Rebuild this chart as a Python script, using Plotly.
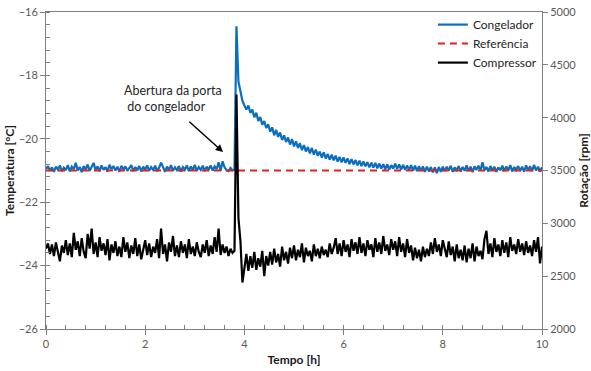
import numpy as np
import plotly.graph_objects as go

# sample times [h]
tempo = np.linspace(0, 10, 251)

# Congelador temperature [°C]
congelador = [
    -20.96, -20.86, -21.01, -20.90, -21.04, -20.88, -20.97, -20.84, -21.02, -20.91,
    -20.99, -20.83, -21.03, -20.88, -20.96, -20.76, -21.00, -20.89, -21.05, -20.86,
    -20.97, -20.81, -21.01, -20.88, -20.76, -20.99, -20.87, -21.02, -20.84, -20.98,
    -20.89, -21.03, -20.82, -20.96, -20.86, -21.00, -20.88, -21.04, -20.85, -20.97,
    -20.87, -21.01, -20.91, -20.83, -21.02, -20.89, -20.99, -20.86, -21.03, -20.88,
    -20.97, -20.84, -21.01, -20.89, -20.98, -20.85, -21.02, -20.91, -20.75, -20.87,
    -21.04, -20.88, -20.98, -20.83, -21.01, -20.90, -20.99, -20.86, -21.03, -20.89,
    -20.97, -20.84, -21.02, -20.87, -20.99, -20.82, -21.01, -20.89, -20.98, -20.85,
    -21.02, -20.88, -20.97, -20.84, -21.00, -20.87, -20.96, -20.74, -21.01, -20.71,
    -20.90, -20.99, -21.02, -20.92, -21.00, -20.97,
    -16.45, -18.20, -18.55, -18.80,
    -18.95, -19.08, -18.95, -19.18, -19.08, -19.32, -19.18, -19.44, -19.31, -19.56,
    -19.44, -19.66, -19.54, -19.78, -19.64, -19.89, -19.72, -19.94, -19.80, -20.04,
    -19.89, -20.10, -19.96, -20.18, -20.01, -20.24, -20.08, -20.29, -20.14, -20.36,
    -20.20, -20.40, -20.26, -20.46, -20.29, -20.50, -20.34, -20.54, -20.40, -20.59,
    -20.43, -20.62, -20.48, -20.66, -20.50, -20.68, -20.53, -20.72, -20.57, -20.74,
    -20.59, -20.76, -20.62, -20.80, -20.64, -20.81, -20.67, -20.84, -20.69, -20.86,
    -20.71, -20.87, -20.74, -20.90, -20.75, -20.91, -20.76, -20.93, -20.78, -20.94,
    -20.80, -20.96, -20.81, -20.97, -20.83,
    -20.94, -20.78, -20.95, -20.81, -20.97, -20.82, -20.98, -20.84, -20.99, -20.83,
    -21.00, -20.85, -21.02, -20.86, -21.01, -20.87, -21.04, -20.88, -21.03, -20.89,
    -21.06, -20.90, -21.08, -20.89, -21.04, -20.88,
    -21.02, -20.88, -21.00, -20.85, -21.04, -20.90, -20.99, -20.86, -21.03, -20.89,
    -21.01, -20.84, -21.02, -20.88, -21.05, -20.87, -20.98, -20.85, -21.00, -20.74,
    -20.99, -20.89, -21.03, -20.86, -21.00, -20.88, -21.04, -20.90, -20.99, -20.85,
    -21.02, -20.87, -21.00, -20.83, -21.03, -20.89, -20.98, -20.86, -21.01, -20.88,
    -21.04, -20.84, -20.99, -20.87, -21.02, -20.82, -21.00, -20.88, -21.03, -20.90,
]

# Referência temperature [°C]
ref_tempo = [0, 10]
referencia = [-21.0, -21.0]

# Compressor rotation [rpm]
compressor = [
    2760, 2810, 2710, 2800, 2690, 2820, 2730, 2640, 2790, 2720,
    2840, 2700, 2810, 2680, 2910, 2750, 2830, 2690, 2860, 2730,
    2670, 2900, 2760, 2950, 2710, 2820, 2680, 2870, 2740, 2810,
    2700, 2850, 2650, 2800, 2720, 2830, 2690, 2780, 2680, 2870,
    2730, 2820, 2670, 2790, 2710, 2860, 2690, 2800, 2660, 2770,
    2840, 2700, 2810, 2680, 2780, 2720, 2850, 2670, 2950, 2710,
    2800, 2640, 2820, 2730, 2880, 2690, 2790, 2680, 2830, 2720,
    2800, 2670, 2850, 2710, 2780, 2690, 2820, 2730, 2680, 2800,
    2720, 2840, 2690, 2790, 2710, 2870, 2730, 2950, 2700, 2800,
    2720, 2780, 2690, 2760, 2720, 2740,
    4220, 3050, 2830, 2440, 2560,
    2710, 2550, 2690, 2580, 2730, 2560, 2670, 2590, 2740, 2500, 2690, 2600,
    2730, 2610, 2760, 2630, 2710, 2590, 2780, 2650, 2730, 2620, 2770, 2670,
    2790, 2650, 2750, 2680, 2810, 2630, 2770, 2690, 2740, 2640, 2800, 2690,
    2760, 2670, 2780, 2700, 2750, 2680, 2810, 2710, 2770,
    2860, 2710, 2810, 2690, 2840, 2730, 2800, 2680, 2850, 2740,
    2820, 2710, 2870, 2720, 2810, 2690, 2840, 2750, 2800, 2680,
    2860, 2730, 2820, 2710, 2880, 2740, 2800, 2700, 2850, 2750,
    2830, 2690, 2870, 2730, 2810, 2680, 2850, 2720, 2790, 2650,
    2770, 2670, 2750, 2640, 2780, 2680, 2760, 2690, 2820, 2710,
    2860, 2730, 2800, 2690, 2840,
    2770, 2680, 2830, 2700, 2780, 2640, 2800, 2670, 2750, 2650,
    2790, 2630, 2760, 2670, 2810, 2640, 2780, 2690, 2740, 2660,
    2850, 2930, 2710, 2810, 2680, 2860, 2730, 2800, 2690, 2840,
    2720, 2820, 2680, 2870, 2740, 2800, 2710, 2850, 2730, 2810,
    2700, 2830, 2720, 2790, 2690, 2840, 2730, 2870, 2620, 2780,
]

x_ticks = [0, 2, 4, 6, 8, 10]
y_ticks = [-26, -24, -22, -20, -18, -16]
y2_ticks = [2000, 2500, 3000, 3500, 4000, 4500, 5000]

FONT = "Lato, 'Open Sans', sans-serif"
AX = "#808080"
TICKF = dict(family=FONT, size=11, color="#595959")
TITLEF = dict(family=FONT, size=12, color="#1a1a1a", weight="bold")
ANNF = dict(family=FONT, size=12.5, color="#262626")

fig = go.Figure()
fig.add_trace(go.Scatter(x=tempo, y=congelador, name="Congelador", mode="lines",
                         line=dict(color="#0A6EBD", width=2.2)))
fig.add_trace(go.Scatter(x=ref_tempo, y=referencia, name="Referência", mode="lines",
                         line=dict(color="#E3201C", width=2, dash="7px,5px")))
fig.add_trace(go.Scatter(x=tempo, y=compressor, name="Compressor", mode="lines",
                         yaxis="y2", line=dict(color="#000000", width=2.2)))

fig.add_annotation(x=1.53, y=-18.72, xref="x", yref="y", xanchor="left", yanchor="middle",
                   text="Abertura da porta<br> do congelador", align="left",
                   showarrow=False, font=ANNF)
fig.add_annotation(x=3.57, y=-20.42, ax=2.86, ay=-19.42, xref="x", yref="y",
                   axref="x", ayref="y", text="", showarrow=True, arrowhead=2,
                   arrowsize=1, arrowwidth=1.5, arrowcolor="#000000")

fig.update_layout(
    width=591, height=371,
    margin=dict(l=46, r=49, t=10, b=42),
    paper_bgcolor="white", plot_bgcolor="white",
    font=dict(family=FONT),
    showlegend=True,
    legend=dict(x=0.78, y=1.006, xanchor="left", yanchor="top",
                bgcolor="rgba(0,0,0,0)", font=dict(family=FONT, size=12, color="#262626"),
                itemwidth=30, tracegroupgap=0),
    xaxis=dict(range=[0, 10], tickvals=x_ticks, showgrid=False, zeroline=False,
               showline=True, linecolor=AX, linewidth=1, mirror=True, automargin=False,
               ticks="outside", ticklen=5, tickcolor=AX, tickfont=TICKF,
               minor=dict(dtick=0.4, ticks="inside", ticklen=4, tickcolor=AX),
               title=dict(text="Tempo [h]", font=TITLEF, standoff=6)),
    yaxis=dict(range=[-26, -16], tickvals=y_ticks, showgrid=False, zeroline=False,
               showline=True, linecolor=AX, linewidth=1, automargin=False,
               ticks="outside", ticklen=5, tickcolor=AX, tickfont=TICKF,
               minor=dict(dtick=0.4, ticks="inside", ticklen=4, tickcolor=AX),
               title=dict(text="Temperatura [°C]", font=TITLEF, standoff=1)),
    yaxis2=dict(range=[2000, 5000], tickvals=y2_ticks, overlaying="y", side="right",
                showgrid=False, zeroline=False, showline=True, linecolor=AX, linewidth=1,
                automargin=False,
                ticks="outside", ticklen=5, tickcolor=AX, tickfont=TICKF,
                title=dict(text="Rotação [rpm]", font=TITLEF, standoff=6)),
)

fig.write_html("out.html")
